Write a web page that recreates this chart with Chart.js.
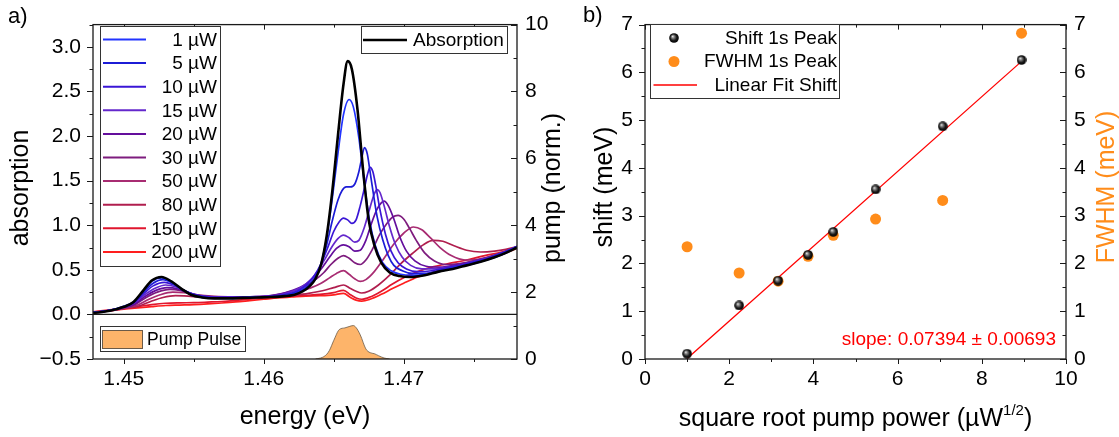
<!DOCTYPE html>
<html>
<head>
<meta charset="utf-8">
<script src="https://cdn.jsdelivr.net/npm/chart.js@4.4.1/dist/chart.umd.min.js"></script>
<style>
  body { margin: 0; background: #fff; }
  #wrap { position: relative; width: 1119px; height: 437px; overflow: hidden; }
  canvas { position: absolute; top: 0; }
  #chartA { left: 0; }
  #chartB { left: 560px; }
</style>
</head>
<body>
<div id="wrap">
  <canvas id="chartA" width="600" height="437"></canvas>
  <canvas id="chartB" width="559" height="437"></canvas>
</div>
<script>
// ---------- panel a : spectra, [energy (eV), absorption] ----------
const absorption = [[1.4478,0.015],[1.4490,0.04],[1.4500,0.085],[1.4507,0.14],[1.4514,0.27],[1.4520,0.38],[1.4527,0.42],[1.4534,0.37],[1.4541,0.29],[1.4548,0.22],[1.4556,0.19],[1.4565,0.18],[1.4575,0.18],[1.4585,0.185],[1.4595,0.19],[1.4605,0.195],[1.4615,0.205],[1.4622,0.22],[1.4628,0.26],[1.4633,0.32],[1.4637,0.40],[1.4641,0.56],[1.4645,0.88],[1.4649,1.38],[1.4653,2.00],[1.4657,2.58],[1.4660,2.84],[1.4663,2.75],[1.4667,2.30],[1.4671,1.62],[1.4675,1.06],[1.4679,0.78],[1.4684,0.58],[1.4690,0.47],[1.4697,0.43],[1.4705,0.42],[1.4715,0.44],[1.4725,0.48],[1.4735,0.51],[1.4745,0.55],[1.4755,0.59],[1.4765,0.64],[1.4773,0.69],[1.4781,0.75]];

const p1 = [[1.4478,0.02],[1.4490,0.045],[1.4500,0.09],[1.4507,0.14],[1.4514,0.26],[1.4520,0.37],[1.4527,0.41],[1.4534,0.36],[1.4541,0.285],[1.4548,0.22],[1.4556,0.19],[1.4565,0.18],[1.4575,0.18],[1.4585,0.185],[1.4595,0.19],[1.4605,0.195],[1.4615,0.21],[1.4622,0.23],[1.4628,0.27],[1.4633,0.33],[1.4637,0.41],[1.4641,0.57],[1.4645,0.86],[1.4649,1.30],[1.4653,1.80],[1.4657,2.24],[1.4661,2.41],[1.4664,2.33],[1.4668,1.98],[1.4672,1.46],[1.4676,1.02],[1.4680,0.76],[1.4685,0.58],[1.4691,0.49],[1.4698,0.45],[1.4706,0.44],[1.4715,0.45],[1.4725,0.48],[1.4735,0.52],[1.4745,0.55],[1.4755,0.59],[1.4765,0.64],[1.4773,0.69],[1.4781,0.76]];

const p5 = [[1.4478,0.02],[1.4490,0.045],[1.4500,0.088],[1.4507,0.135],[1.4514,0.25],[1.4521,0.35],[1.4528,0.39],[1.4535,0.35],[1.4542,0.28],[1.4549,0.225],[1.4557,0.195],[1.4566,0.185],[1.4576,0.185],[1.4586,0.19],[1.4596,0.195],[1.4606,0.20],[1.4615,0.215],[1.4622,0.24],[1.4628,0.28],[1.4633,0.34],[1.4637,0.42],[1.4641,0.56],[1.4645,0.78],[1.4649,1.05],[1.4653,1.28],[1.4656,1.39],[1.4659,1.43],[1.4662,1.43],[1.4665,1.46],[1.4668,1.60],[1.4670,1.75],[1.4672,1.87],[1.4674,1.80],[1.4676,1.60],[1.4678,1.39],[1.4681,1.10],[1.4685,0.84],[1.4689,0.66],[1.4693,0.55],[1.4699,0.49],[1.4706,0.46],[1.4715,0.46],[1.4725,0.49],[1.4735,0.52],[1.4745,0.56],[1.4755,0.60],[1.4765,0.65],[1.4773,0.70],[1.4781,0.76]];

const p10 = [[1.4478,0.02],[1.4490,0.045],[1.4500,0.085],[1.4507,0.13],[1.4514,0.23],[1.4521,0.32],[1.4529,0.36],[1.4536,0.33],[1.4543,0.27],[1.4550,0.225],[1.4558,0.20],[1.4568,0.19],[1.4580,0.19],[1.4592,0.195],[1.4603,0.20],[1.4612,0.215],[1.4620,0.24],[1.4626,0.28],[1.4631,0.34],[1.4636,0.43],[1.4641,0.57],[1.4646,0.76],[1.4650,0.93],[1.4654,1.04],[1.4657,1.08],[1.4660,1.06],[1.4663,1.02],[1.4666,1.06],[1.4669,1.22],[1.4672,1.42],[1.4674,1.56],[1.4676,1.65],[1.4678,1.60],[1.4680,1.45],[1.4683,1.18],[1.4687,0.90],[1.4691,0.71],[1.4696,0.58],[1.4702,0.51],[1.4710,0.48],[1.4720,0.49],[1.4730,0.52],[1.4740,0.55],[1.4750,0.59],[1.4760,0.63],[1.4770,0.69],[1.4781,0.76]];

const p15 = [[1.4478,0.02],[1.4490,0.045],[1.4500,0.082],[1.4507,0.125],[1.4514,0.21],[1.4522,0.29],[1.4530,0.33],[1.4537,0.31],[1.4544,0.26],[1.4551,0.22],[1.4559,0.20],[1.4570,0.195],[1.4582,0.195],[1.4594,0.20],[1.4604,0.205],[1.4612,0.22],[1.4619,0.25],[1.4625,0.29],[1.4631,0.35],[1.4637,0.45],[1.4643,0.60],[1.4648,0.74],[1.4653,0.85],[1.4657,0.89],[1.4661,0.86],[1.4665,0.81],[1.4668,0.83],[1.4672,0.98],[1.4676,1.20],[1.4679,1.35],[1.4681,1.40],[1.4683,1.37],[1.4686,1.22],[1.4690,0.98],[1.4694,0.79],[1.4699,0.64],[1.4705,0.55],[1.4713,0.51],[1.4722,0.51],[1.4732,0.53],[1.4742,0.56],[1.4752,0.60],[1.4762,0.64],[1.4771,0.69],[1.4781,0.76]];

const p20 = [[1.4478,0.02],[1.4490,0.044],[1.4500,0.078],[1.4508,0.12],[1.4515,0.20],[1.4523,0.27],[1.4531,0.30],[1.4538,0.29],[1.4545,0.25],[1.4552,0.215],[1.4560,0.20],[1.4572,0.195],[1.4584,0.195],[1.4596,0.20],[1.4605,0.21],[1.4612,0.23],[1.4618,0.255],[1.4624,0.29],[1.4630,0.34],[1.4636,0.42],[1.4642,0.53],[1.4647,0.64],[1.4652,0.74],[1.4657,0.78],[1.4661,0.76],[1.4665,0.71],[1.4669,0.72],[1.4673,0.83],[1.4677,1.02],[1.4681,1.18],[1.4684,1.25],[1.4686,1.27],[1.4689,1.22],[1.4693,1.07],[1.4697,0.88],[1.4702,0.71],[1.4708,0.60],[1.4716,0.54],[1.4726,0.53],[1.4736,0.55],[1.4746,0.58],[1.4756,0.62],[1.4766,0.66],[1.4774,0.70],[1.4781,0.76]];

const p30 = [[1.4478,0.02],[1.4490,0.043],[1.4500,0.074],[1.4508,0.11],[1.4516,0.19],[1.4524,0.25],[1.4533,0.28],[1.4540,0.27],[1.4547,0.24],[1.4554,0.215],[1.4562,0.20],[1.4574,0.195],[1.4586,0.195],[1.4598,0.20],[1.4606,0.21],[1.4613,0.23],[1.4619,0.255],[1.4625,0.285],[1.4631,0.33],[1.4637,0.39],[1.4643,0.47],[1.4648,0.56],[1.4653,0.63],[1.4657,0.66],[1.4661,0.63],[1.4665,0.58],[1.4669,0.56],[1.4673,0.61],[1.4678,0.74],[1.4683,0.90],[1.4688,1.02],[1.4692,1.09],[1.4696,1.11],[1.4700,1.07],[1.4704,0.97],[1.4709,0.83],[1.4715,0.69],[1.4722,0.60],[1.4730,0.56],[1.4740,0.57],[1.4750,0.60],[1.4760,0.64],[1.4770,0.69],[1.4781,0.76]];

const p50 = [[1.4478,0.025],[1.4490,0.042],[1.4500,0.07],[1.4509,0.10],[1.4518,0.17],[1.4526,0.22],[1.4535,0.25],[1.4543,0.245],[1.4550,0.225],[1.4558,0.21],[1.4568,0.20],[1.4580,0.195],[1.4592,0.195],[1.4602,0.20],[1.4610,0.21],[1.4618,0.23],[1.4626,0.26],[1.4634,0.30],[1.4641,0.35],[1.4647,0.41],[1.4652,0.46],[1.4657,0.49],[1.4661,0.45],[1.4665,0.40],[1.4669,0.37],[1.4673,0.39],[1.4679,0.48],[1.4686,0.63],[1.4693,0.79],[1.4700,0.91],[1.4707,0.98],[1.4713,0.95],[1.4719,0.86],[1.4726,0.75],[1.4734,0.66],[1.4744,0.61],[1.4754,0.62],[1.4764,0.66],[1.4773,0.70],[1.4781,0.76]];

const p80 = [[1.4478,0.025],[1.4490,0.04],[1.4500,0.065],[1.4510,0.09],[1.4520,0.15],[1.4528,0.19],[1.4537,0.21],[1.4546,0.205],[1.4555,0.195],[1.4565,0.19],[1.4577,0.185],[1.4590,0.19],[1.4602,0.195],[1.4612,0.20],[1.4622,0.215],[1.4632,0.235],[1.4642,0.265],[1.4650,0.30],[1.4657,0.33],[1.4662,0.29],[1.4666,0.26],[1.4670,0.24],[1.4675,0.26],[1.4682,0.33],[1.4690,0.44],[1.4698,0.57],[1.4706,0.68],[1.4714,0.78],[1.4721,0.83],[1.4728,0.82],[1.4736,0.77],[1.4745,0.72],[1.4755,0.70],[1.4765,0.71],[1.4773,0.73],[1.4781,0.76]];

const p150 = [[1.4478,0.03],[1.4490,0.05],[1.4500,0.068],[1.4510,0.088],[1.4520,0.11],[1.4530,0.125],[1.4540,0.13],[1.4550,0.132],[1.4560,0.138],[1.4570,0.145],[1.4580,0.158],[1.4590,0.17],[1.4600,0.185],[1.4610,0.195],[1.4620,0.205],[1.4630,0.215],[1.4640,0.225],[1.4650,0.245],[1.4657,0.27],[1.4662,0.22],[1.4666,0.185],[1.4670,0.17],[1.4676,0.195],[1.4684,0.26],[1.4692,0.34],[1.4700,0.41],[1.4710,0.48],[1.4720,0.53],[1.4732,0.57],[1.4745,0.61],[1.4758,0.66],[1.4770,0.70],[1.4781,0.75]];

const p200 = [[1.4478,0.025],[1.4490,0.042],[1.4500,0.058],[1.4510,0.074],[1.4520,0.088],[1.4530,0.10],[1.4540,0.105],[1.4550,0.11],[1.4560,0.118],[1.4570,0.128],[1.4580,0.14],[1.4590,0.155],[1.4600,0.17],[1.4610,0.185],[1.4620,0.195],[1.4630,0.205],[1.4640,0.21],[1.4650,0.22],[1.4657,0.235],[1.4662,0.19],[1.4666,0.16],[1.4670,0.148],[1.4676,0.17],[1.4684,0.225],[1.4692,0.29],[1.4700,0.35],[1.4710,0.42],[1.4720,0.47],[1.4732,0.52],[1.4745,0.56],[1.4758,0.61],[1.4770,0.67],[1.4781,0.74]];

// pump pulse, right axis (norm.)
const pumpPulse = [[1.4637,0],[1.4642,0.05],[1.4645,0.14],[1.4647,0.26],[1.4650,0.55],[1.4654,0.88],[1.4658,0.93],[1.4661,0.97],[1.4664,1.0],[1.4666,0.94],[1.4669,0.72],[1.4673,0.30],[1.4676,0.19],[1.4679,0.16],[1.4682,0.10],[1.4686,0.03],[1.4690,0]];

const powerLabels = ['1 µW', '5 µW', '10 µW', '15 µW', '20 µW', '30 µW', '50 µW', '80 µW', '150 µW', '200 µW'];
const powerSeries = [p1, p5, p10, p15, p20, p30, p50, p80, p150, p200];
const powerColors = ['#2234FF', '#1C1CD6', '#3A16D6', '#6428CC', '#640E9C', '#7E1C7E', '#A82C72', '#B01E4E', '#E0162E', '#FF1E1E'];

// ticks panel a
const xTicksA = [1.45, 1.46, 1.47];
const xMinorA = [1.455, 1.465, 1.475];
const yTicksA = [-0.5, 0, 0.5, 1.0, 1.5, 2.0, 2.5, 3.0];
const yMinorA = [-0.25, 0.25, 0.75, 1.25, 1.75, 2.25, 2.75, 3.25];
const y2TicksA = [0, 2, 4, 6, 8, 10];
const y2MinorA = [1, 3, 5, 7, 9];

// ---------- panel b ----------
const sqrtPower = [1.0, 2.236, 3.162, 3.873, 4.472, 5.477, 7.071, 8.944];
const shift = [0.11, 1.12, 1.64, 2.18, 2.66, 3.55, 4.87, 6.26];
const fwhm = [2.35, 1.80, 1.63, 2.15, 2.59, 2.93, 3.32, 6.82];
const fitX = [1.0, 8.944];
const fitY = [0.01, 6.23];
const slopeText = 'slope: 0.07394 ± 0.00693';

const xTicksB = [0, 2, 4, 6, 8, 10];
const xMinorB = [1, 3, 5, 7, 9];
const yTicksB = [0, 1, 2, 3, 4, 5, 6, 7];
const yMinorB = [0.5, 1.5, 2.5, 3.5, 4.5, 5.5, 6.5];

const FONT = '"Liberation Sans", Arial, sans-serif';
const ORANGE = '#FF8C1A';
const tickFont = { family: FONT, size: 21 };

function toXY(pairs) { return pairs.map(p => ({ x: p[0], y: p[1] })); }

function tickSet(ctx, scale, vals, len, edge, dir) {
  ctx.beginPath();
  vals.forEach(v => {
    const p = Math.round(scale.getPixelForValue(v)) + 0.5;
    if (scale.isHorizontal()) { ctx.moveTo(p, edge); ctx.lineTo(p, edge + dir * len); }
    else { ctx.moveTo(edge, p); ctx.lineTo(edge + dir * len, p); }
  });
  ctx.stroke();
}

function vText(ctx, text, x, y, color) {
  ctx.save();
  ctx.translate(x, y);
  ctx.rotate(-Math.PI / 2);
  ctx.fillStyle = color || '#000';
  ctx.textAlign = 'center';
  ctx.textBaseline = 'middle';
  ctx.fillText(text, 0, 0);
  ctx.restore();
}

function makeSphere(d) {
  const c = document.createElement('canvas');
  c.width = d; c.height = d;
  const g = c.getContext('2d');
  const r = d / 2;
  const grad = g.createRadialGradient(r * 0.7, r * 0.65, 0, r, r, r);
  grad.addColorStop(0, '#f4f4f4');
  grad.addColorStop(0.3, '#808080');
  grad.addColorStop(0.65, '#181818');
  grad.addColorStop(1, '#000');
  g.fillStyle = grad;
  g.beginPath(); g.arc(r, r, r - 0.2, 0, Math.PI * 2); g.fill();
  return c;
}
const sphere = makeSphere(10);

// ---------- panel a ----------
const decorA = {
  id: 'decorA',
  afterDraw(chart) {
    const { ctx, chartArea: ca, scales } = chart;
    ctx.save();
    ctx.strokeStyle = '#1a1a1a';
    ctx.lineWidth = 1.3;
    ctx.strokeRect(ca.left, ca.top, ca.right - ca.left, ca.bottom - ca.top);
    const y0 = scales.y.getPixelForValue(0);
    ctx.beginPath(); ctx.moveTo(ca.left, y0); ctx.lineTo(ca.right, y0); ctx.stroke();

    ctx.lineWidth = 1;
    tickSet(ctx, scales.x, xTicksA, 5, ca.bottom, 1);
    tickSet(ctx, scales.x, xMinorA, 3, ca.bottom, 1);
    tickSet(ctx, scales.x, xTicksA, 5, ca.top, 1);
    tickSet(ctx, scales.x, xMinorA, 3, ca.top, 1);
    tickSet(ctx, scales.y, yTicksA, 6, ca.left, -1);
    tickSet(ctx, scales.y, yMinorA, 3.5, ca.left, -1);
    tickSet(ctx, scales.y2, y2TicksA, 6, ca.right, -1);
    tickSet(ctx, scales.y2, y2MinorA, 3.5, ca.right, -1);

    // legend: powers
    ctx.font = '19px ' + FONT;
    ctx.textBaseline = 'middle';
    ctx.fillStyle = '#fff';
    ctx.fillRect(100.5, 26.5, 120, 240);
    ctx.strokeStyle = '#333';
    ctx.lineWidth = 1;
    ctx.strokeRect(100.5, 26.5, 120, 240);
    powerLabels.forEach((lab, i) => {
      const y = 39.5 + i * 23.6;
      ctx.strokeStyle = powerColors[i];
      ctx.lineWidth = 2;
      ctx.beginPath(); ctx.moveTo(103, y); ctx.lineTo(146, y); ctx.stroke();
      ctx.fillStyle = '#000';
      ctx.textAlign = 'right';
      ctx.fillText(lab, 217, y + 1);
    });

    // legend: absorption
    ctx.fillStyle = '#fff';
    ctx.fillRect(361.5, 26.5, 146, 27);
    ctx.strokeStyle = '#333'; ctx.lineWidth = 1;
    ctx.strokeRect(361.5, 26.5, 146, 27);
    ctx.strokeStyle = '#000'; ctx.lineWidth = 2.5;
    ctx.beginPath(); ctx.moveTo(363, 40); ctx.lineTo(407, 40); ctx.stroke();
    ctx.fillStyle = '#000'; ctx.textAlign = 'left';
    ctx.fillText('Absorption', 413, 41);

    // legend: pump pulse
    ctx.fillStyle = '#fff';
    ctx.fillRect(100.5, 326.5, 145, 25);
    ctx.strokeStyle = '#333'; ctx.lineWidth = 1;
    ctx.strokeRect(100.5, 326.5, 145, 25);
    ctx.fillStyle = '#FDB46A';
    ctx.fillRect(102.5, 330.5, 40, 18);
    ctx.strokeStyle = '#6b5a48';
    ctx.strokeRect(102.5, 330.5, 40, 18);
    ctx.fillStyle = '#000';
    ctx.font = '17.5px ' + FONT;
    ctx.fillText('Pump Pulse', 147, 340);

    // titles
    ctx.font = '22px ' + FONT;
    ctx.textAlign = 'left';
    ctx.fillText('a)', 8, 17);
    ctx.font = '25px ' + FONT;
    vText(ctx, 'absorption', 21, 188);
    vText(ctx, 'pump (norm.)', 553, 188);
    ctx.textAlign = 'center';
    ctx.fillText('energy (eV)', (ca.left + ca.right) / 2, 417);
    ctx.restore();
  }
};

const datasetsA = [{
  label: 'Absorption',
  data: toXY(absorption),
  borderColor: '#000',
  borderWidth: 2.6,
  pointRadius: 0,
  cubicInterpolationMode: 'monotone',
  yAxisID: 'y',
  order: 0
}];
powerSeries.forEach((s, i) => {
  datasetsA.push({
    label: powerLabels[i],
    data: toXY(s),
    borderColor: powerColors[i],
    borderWidth: 1.7,
    pointRadius: 0,
    cubicInterpolationMode: 'monotone',
    yAxisID: 'y',
    order: i + 1
  });
});
datasetsA.push({
  label: 'Pump Pulse',
  data: toXY(pumpPulse),
  borderColor: '#6b5a48',
  borderWidth: 0.8,
  backgroundColor: '#FDB46A',
  fill: 'origin',
  pointRadius: 0,
  cubicInterpolationMode: 'monotone',
  yAxisID: 'y2',
  order: 20
});

new Chart(document.getElementById('chartA'), {
  type: 'line',
  data: { datasets: datasetsA },
  options: {
    responsive: false,
    animation: false,
    events: [],
    layout: { padding: { top: 17, left: 0, right: 0, bottom: 0 } },
    plugins: { legend: { display: false }, tooltip: { enabled: false } },
    scales: {
      x: {
        type: 'linear', position: 'bottom', min: 1.4478, max: 1.4781,
        afterFit: s => { s.height = 78; },
        afterBuildTicks: s => { s.ticks = xTicksA.map(v => ({ value: v })); },
        ticks: { font: tickFont, color: '#000', padding: 8, maxRotation: 0, autoSkip: false, callback: v => v.toFixed(2) },
        grid: { display: false, drawTicks: false },
        border: { display: false }
      },
      y: {
        type: 'linear', position: 'left', min: -0.5, max: 3.25,
        afterFit: s => { s.width = 93; },
        afterBuildTicks: s => { s.ticks = yTicksA.map(v => ({ value: v })); },
        ticks: { font: tickFont, color: '#000', padding: 12, callback: v => (v < 0 ? '\u2212' + Math.abs(v).toFixed(1) : v.toFixed(1)) },
        grid: { display: false, drawTicks: false },
        border: { display: false }
      },
      y2: {
        type: 'linear', position: 'right', min: 0, max: 10,
        afterFit: s => { s.width = 83; },
        afterBuildTicks: s => { s.ticks = y2TicksA.map(v => ({ value: v })); },
        ticks: { font: tickFont, color: '#000', padding: 8, callback: v => String(v) },
        grid: { display: false, drawTicks: false },
        border: { display: false }
      }
    }
  },
  plugins: [decorA]
});

// ---------- panel b ----------
const decorB = {
  id: 'decorB',
  afterDraw(chart) {
    const { ctx, chartArea: ca, scales } = chart;
    ctx.save();
    ctx.strokeStyle = '#1a1a1a';
    ctx.lineWidth = 1.3;
    ctx.strokeRect(ca.left, ca.top, ca.right - ca.left, ca.bottom - ca.top);
    ctx.lineWidth = 1;
    tickSet(ctx, scales.x, xTicksB, 5, ca.bottom, 1);
    tickSet(ctx, scales.x, xMinorB, 3, ca.bottom, 1);
    tickSet(ctx, scales.x, xTicksB, 5, ca.top, 1);
    tickSet(ctx, scales.x, xMinorB, 3, ca.top, 1);
    tickSet(ctx, scales.y, yTicksB, 6, ca.left, -1);
    tickSet(ctx, scales.y, yMinorB, 3.5, ca.left, -1);
    tickSet(ctx, scales.y2, yTicksB, 6, ca.right, -1);
    tickSet(ctx, scales.y2, yMinorB, 3.5, ca.right, -1);

    // legend
    ctx.fillStyle = '#fff';
    ctx.fillRect(90.5, 24.5, 189, 74);
    ctx.strokeStyle = '#333';
    ctx.strokeRect(90.5, 24.5, 189, 74);
    ctx.drawImage(sphere, 114 - 5, 38 - 5);
    ctx.fillStyle = ORANGE;
    ctx.beginPath(); ctx.arc(114, 61.5, 5.5, 0, Math.PI * 2); ctx.fill();
    ctx.strokeStyle = '#FF0000'; ctx.lineWidth = 1.3;
    ctx.beginPath(); ctx.moveTo(93.5, 85); ctx.lineTo(137, 85); ctx.stroke();
    ctx.font = '19px ' + FONT;
    ctx.fillStyle = '#000';
    ctx.textAlign = 'right';
    ctx.textBaseline = 'middle';
    ctx.fillText('Shift 1s Peak', 277, 38.5);
    ctx.fillText('FWHM 1s Peak', 277, 62);
    ctx.fillText('Linear Fit Shift', 277, 85.5);

    // slope note
    ctx.fillStyle = '#FF0000';
    ctx.fillText(slopeText, 496, 340);

    // titles
    ctx.fillStyle = '#000';
    ctx.font = '22px ' + FONT;
    ctx.textAlign = 'left';
    ctx.fillText('b)', 23, 16);
    ctx.font = '25px ' + FONT;
    vText(ctx, 'shift (meV)', 45, 187, '#000');
    vText(ctx, 'FWHM (meV)', 547, 187, ORANGE);

    // x title with superscript
    const main = 'square root pump power (µW';
    const sup = '1/2';
    const tail = ')';
    ctx.font = '25px ' + FONT;
    const w1 = ctx.measureText(main).width;
    const w3 = ctx.measureText(tail).width;
    ctx.font = '15px ' + FONT;
    const w2 = ctx.measureText(sup).width;
    const cx = (ca.left + ca.right) / 2;
    let x = cx - (w1 + w2 + w3) / 2;
    ctx.textAlign = 'left';
    ctx.textBaseline = 'alphabetic';
    ctx.font = '25px ' + FONT;
    ctx.fillText(main, x, 426);
    x += w1;
    ctx.font = '15px ' + FONT;
    ctx.fillText(sup, x, 415);
    x += w2;
    ctx.font = '25px ' + FONT;
    ctx.fillText(tail, x, 426);
    ctx.restore();
  }
};

new Chart(document.getElementById('chartB'), {
  type: 'scatter',
  data: {
    datasets: [
      {
        label: 'Shift 1s Peak',
        data: sqrtPower.map((x, i) => ({ x: x, y: shift[i] })),
        pointStyle: sphere,
        pointRadius: 5,
        order: 0
      },
      {
        label: 'Linear Fit Shift',
        data: fitX.map((x, i) => ({ x: x, y: fitY[i] })),
        showLine: true,
        borderColor: '#FF0000',
        borderWidth: 1.3,
        pointRadius: 0,
        order: 1
      },
      {
        label: 'FWHM 1s Peak',
        data: sqrtPower.map((x, i) => ({ x: x, y: fwhm[i] })),
        yAxisID: 'y2',
        backgroundColor: ORANGE,
        borderWidth: 0,
        pointRadius: 5.5,
        order: 2
      }
    ]
  },
  options: {
    responsive: false,
    animation: false,
    events: [],
    layout: { padding: { top: 17, left: 0, right: 0, bottom: 0 } },
    plugins: { legend: { display: false }, tooltip: { enabled: false } },
    scales: {
      x: {
        type: 'linear', position: 'bottom', min: 0, max: 10,
        afterFit: s => { s.height = 78; },
        afterBuildTicks: s => { s.ticks = xTicksB.map(v => ({ value: v })); },
        ticks: { font: tickFont, color: '#000', padding: 8, maxRotation: 0, autoSkip: false, callback: v => String(v) },
        grid: { display: false, drawTicks: false },
        border: { display: false }
      },
      y: {
        type: 'linear', position: 'left', min: 0, max: 7,
        afterFit: s => { s.width = 85; },
        afterBuildTicks: s => { s.ticks = yTicksB.map(v => ({ value: v })); },
        ticks: { font: tickFont, color: '#000', padding: 12, callback: v => String(v) },
        grid: { display: false, drawTicks: false },
        border: { display: false }
      },
      y2: {
        type: 'linear', position: 'right', min: 0, max: 7,
        afterFit: s => { s.width = 53; },
        afterBuildTicks: s => { s.ticks = yTicksB.map(v => ({ value: v })); },
        ticks: { font: tickFont, color: '#000', padding: 8, callback: v => String(v) },
        grid: { display: false, drawTicks: false },
        border: { display: false }
      }
    }
  },
  plugins: [decorB]
});
</script>
</body>
</html>
